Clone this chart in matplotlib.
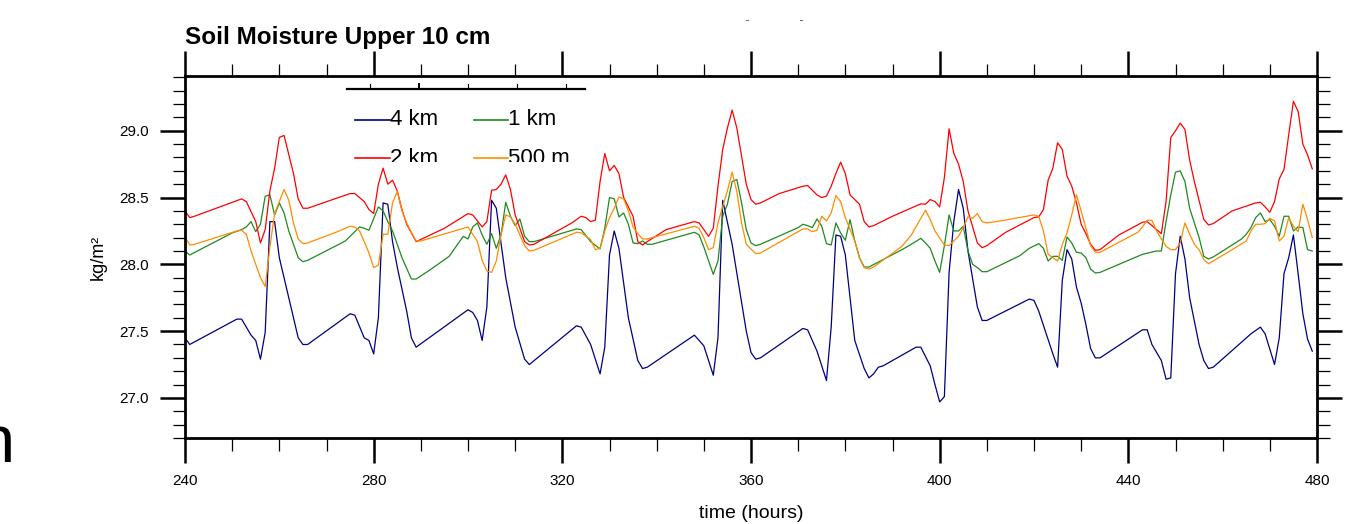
import numpy as np
import matplotlib.pyplot as plt
from matplotlib.lines import Line2D
from matplotlib.patches import Rectangle
from matplotlib.ticker import MultipleLocator

plt.rcParams['font.family'] = ['Liberation Sans', 'DejaVu Sans']

# (hour, soil moisture kg/m2) for each model resolution
sm_4km = [(240, 27.45), (241, 27.40), (251, 27.59), (252, 27.59), (254, 27.47), (255, 27.43), (256, 27.29),
          (257, 27.49), (258, 28.32), (259, 28.32), (260, 28.05), (264, 27.45), (265, 27.40), (266, 27.40),
          (275, 27.63), (276, 27.62), (278, 27.45), (279, 27.43), (280, 27.33), (281, 27.60), (282, 28.46),
          (283, 28.45), (284, 28.17), (285, 27.98), (287, 27.65), (288, 27.45), (289, 27.38), (300, 27.66),
          (301, 27.64), (302, 27.58), (303, 27.43), (304, 27.68), (305, 28.48), (306, 28.42), (308, 27.90),
          (310, 27.53), (312, 27.29), (313, 27.25), (323, 27.54), (324, 27.53), (326, 27.40), (328, 27.18),
          (329, 27.38), (330, 28.07), (331, 28.25), (332, 28.12), (334, 27.60), (336, 27.28), (337, 27.22),
          (338, 27.23), (348, 27.47), (350, 27.39), (352, 27.17), (353, 27.45), (354, 28.48), (356, 28.15),
          (359, 27.50), (360, 27.34), (361, 27.29), (362, 27.30), (371, 27.52), (372, 27.51), (374, 27.35),
          (376, 27.13), (377, 27.53), (378, 28.22), (379, 28.21), (380, 28.07), (382, 27.43), (384, 27.22),
          (385, 27.15), (386, 27.18), (387, 27.23), (388, 27.24), (395, 27.38), (396, 27.38), (398, 27.24),
          (399, 27.10), (400, 26.97), (401, 27.01), (402, 27.94), (403, 28.32), (404, 28.56), (405, 28.42),
          (406, 28.10), (408, 27.68), (409, 27.58), (410, 27.58), (419, 27.74), (420, 27.73), (421, 27.65),
          (424, 27.33), (425, 27.23), (426, 27.88), (427, 28.11), (428, 28.04), (429, 27.83), (430, 27.71),
          (431, 27.55), (432, 27.37), (433, 27.30), (434, 27.30), (443, 27.51), (444, 27.51), (445, 27.40),
          (447, 27.28), (448, 27.14), (449, 27.15), (450, 27.93), (451, 28.21), (452, 28.04), (453, 27.75),
          (455, 27.40), (456, 27.28), (457, 27.22), (458, 27.23), (466, 27.48), (468, 27.53), (469, 27.48),
          (471, 27.25), (472, 27.45), (473, 27.93), (474, 28.05), (475, 28.22), (476, 27.93), (477, 27.63),
          (478, 27.44), (479, 27.35)]

sm_2km = [(240, 28.40), (241, 28.35), (242, 28.36), (252, 28.49), (253, 28.47), (255, 28.32), (256, 28.16),
          (257, 28.26), (258, 28.55), (259, 28.72), (260, 28.95), (261, 28.965), (263, 28.68), (264, 28.49),
          (265, 28.42), (266, 28.42), (275, 28.53), (276, 28.53), (278, 28.47), (279, 28.41), (280, 28.38),
          (281, 28.60), (282, 28.72), (283, 28.60), (284, 28.63), (285, 28.55), (286, 28.41), (287, 28.30),
          (289, 28.17), (295, 28.27), (300, 28.38), (301, 28.37), (303, 28.28), (304, 28.32), (305, 28.555),
          (306, 28.56), (307, 28.60), (308, 28.67), (309, 28.56), (310, 28.37), (312, 28.17), (313, 28.145),
          (314, 28.15), (322, 28.31), (323, 28.335), (324, 28.36), (325, 28.35), (326, 28.32), (327, 28.33),
          (328, 28.62), (329, 28.83), (330, 28.70), (331, 28.74), (332, 28.68), (333, 28.50), (335, 28.36),
          (336, 28.17), (337, 28.145), (338, 28.17), (342, 28.26), (348, 28.32), (349, 28.31), (350, 28.26),
          (351, 28.21), (352, 28.27), (353, 28.585), (354, 28.86), (355, 29.02), (356, 29.155), (357, 29.02),
          (358, 28.81), (359, 28.60), (360, 28.485), (361, 28.45), (362, 28.46), (366, 28.53), (371, 28.585),
          (372, 28.59), (374, 28.52), (375, 28.50), (376, 28.51), (377, 28.585), (378, 28.68), (379, 28.765),
          (380, 28.68), (381, 28.52), (383, 28.45), (384, 28.32), (385, 28.28), (386, 28.29), (390, 28.36),
          (396, 28.453), (397, 28.45), (398, 28.485), (399, 28.47), (400, 28.43), (401, 28.65), (402, 29.015),
          (403, 28.83), (404, 28.75), (405, 28.62), (406, 28.40), (408, 28.16), (409, 28.125), (410, 28.14),
          (414, 28.24), (420, 28.35), (421, 28.355), (422, 28.41), (423, 28.63), (424, 28.72), (425, 28.91),
          (426, 28.86), (427, 28.66), (428, 28.585), (429, 28.46), (430, 28.30), (431, 28.23), (432, 28.15),
          (433, 28.105), (434, 28.11), (438, 28.22), (443, 28.315), (444, 28.32), (446, 28.26), (447, 28.23),
          (448, 28.47), (449, 28.95), (450, 29.00), (451, 29.057), (452, 29.01), (453, 28.78), (454, 28.62),
          (456, 28.336), (457, 28.295), (458, 28.305), (462, 28.40), (467, 28.46), (468, 28.465), (469, 28.43),
          (470, 28.39), (471, 28.47), (472, 28.64), (473, 28.71), (474, 28.97), (475, 29.22), (476, 29.145),
          (477, 28.90), (478, 28.82), (479, 28.715)]

sm_1km = [(240, 28.10), (241, 28.07), (250, 28.235), (252, 28.26), (253, 28.28), (254, 28.32), (255, 28.245),
          (256, 28.30), (257, 28.51), (258, 28.52), (259, 28.37), (260, 28.46), (261, 28.385), (262, 28.25),
          (264, 28.05), (265, 28.02), (266, 28.03), (274, 28.175), (275, 28.21), (277, 28.28), (278, 28.27),
          (279, 28.255), (281, 28.43), (282, 28.40), (283, 28.32), (284, 28.25), (286, 28.05), (288, 27.89),
          (289, 27.89), (292, 27.96), (296, 28.06), (297, 28.11), (299, 28.21), (300, 28.19), (301, 28.28),
          (302, 28.31), (303, 28.22), (304, 28.15), (305, 28.23), (306, 28.12), (307, 28.22), (308, 28.465),
          (309, 28.36), (310, 28.29), (311, 28.34), (312, 28.21), (313, 28.17), (314, 28.17), (323, 28.265),
          (324, 28.26), (326, 28.17), (328, 28.115), (329, 28.27), (330, 28.50), (331, 28.49), (332, 28.355),
          (333, 28.385), (334, 28.30), (335, 28.16), (336, 28.155), (337, 28.175), (338, 28.15), (339, 28.15),
          (348, 28.24), (349, 28.22), (350, 28.13), (352, 27.925), (353, 28.025), (354, 28.36), (355, 28.45),
          (356, 28.62), (357, 28.635), (358, 28.46), (359, 28.26), (360, 28.16), (361, 28.14), (362, 28.15),
          (370, 28.275), (371, 28.30), (372, 28.29), (373, 28.275), (374, 28.34), (375, 28.285), (376, 28.155),
          (377, 28.145), (378, 28.31), (379, 28.235), (380, 28.18), (381, 28.335), (382, 28.175), (383, 28.05),
          (384, 27.98), (385, 27.98), (392, 28.11), (394, 28.15), (396, 28.195), (397, 28.16), (398, 28.12),
          (399, 28.025), (400, 27.94), (401, 28.14), (402, 28.37), (403, 28.25), (404, 28.25), (405, 28.285),
          (406, 28.10), (407, 28.00), (408, 27.975), (409, 27.945), (410, 27.945), (417, 28.065), (419, 28.12),
          (421, 28.155), (422, 28.12), (423, 28.025), (424, 28.06), (425, 28.06), (426, 28.03), (427, 28.205),
          (428, 28.16), (429, 28.09), (430, 28.085), (431, 28.05), (432, 27.965), (433, 27.935), (434, 27.94),
          (443, 28.075), (445, 28.092), (446, 28.10), (447, 28.10), (448, 28.32), (449, 28.52), (450, 28.69),
          (451, 28.70), (452, 28.62), (453, 28.42), (455, 28.20), (456, 28.06), (457, 28.04), (458, 28.055),
          (464, 28.19), (465, 28.225), (466, 28.275), (467, 28.35), (468, 28.385), (469, 28.32), (470, 28.335),
          (471, 28.285), (472, 28.21), (473, 28.36), (474, 28.36), (475, 28.25), (476, 28.28), (477, 28.275),
          (478, 28.11), (479, 28.10)]

sm_500m = [(240, 28.205), (241, 28.145), (242, 28.15), (251, 28.25), (252, 28.255), (253, 28.225), (254, 28.10),
           (256, 27.90), (257, 27.835), (258, 28.13), (259, 28.38), (260, 28.47), (261, 28.56), (262, 28.48),
           (263, 28.31), (264, 28.19), (265, 28.155), (266, 28.16), (272, 28.24), (275, 28.285), (276, 28.28),
           (277, 28.25), (278, 28.17), (279, 28.085), (280, 27.975), (281, 27.995), (282, 28.225), (283, 28.225),
           (284, 28.46), (285, 28.545), (286, 28.40), (287, 28.31), (288, 28.24), (289, 28.175), (290, 28.175),
           (300, 28.28), (302, 28.17), (303, 28.03), (304, 27.95), (305, 27.94), (306, 28.025), (307, 28.22),
           (308, 28.37), (309, 28.355), (310, 28.30), (311, 28.22), (312, 28.14), (313, 28.10), (314, 28.105),
           (323, 28.24), (324, 28.236), (326, 28.185), (327, 28.11), (328, 28.12), (329, 28.25), (330, 28.35),
           (331, 28.42), (332, 28.505), (333, 28.49), (334, 28.40), (335, 28.28), (336, 28.23), (337, 28.19),
           (338, 28.19), (348, 28.285), (349, 28.27), (350, 28.20), (351, 28.11), (352, 28.125), (353, 28.31),
           (354, 28.435), (355, 28.55), (356, 28.69), (357, 28.545), (358, 28.31), (359, 28.15), (361, 28.08),
           (362, 28.085), (371, 28.265), (372, 28.265), (373, 28.245), (374, 28.255), (375, 28.36), (376, 28.325),
           (377, 28.385), (378, 28.515), (379, 28.47), (380, 28.35), (382, 28.175), (383, 28.05), (384, 27.975),
           (385, 27.965), (386, 27.98), (392, 28.135), (394, 28.22), (396, 28.345), (397, 28.405), (398, 28.335),
           (399, 28.25), (401, 28.145), (402, 28.14), (403, 28.175), (404, 28.21), (405, 28.275), (406, 28.355),
           (407, 28.345), (408, 28.38), (409, 28.32), (410, 28.31), (412, 28.32), (420, 28.37), (421, 28.36),
           (422, 28.25), (423, 28.075), (424, 28.05), (425, 28.025), (426, 28.15), (427, 28.235), (428, 28.37),
           (429, 28.52), (430, 28.40), (431, 28.27), (432, 28.14), (433, 28.09), (434, 28.09), (442, 28.24),
           (443, 28.28), (444, 28.33), (445, 28.33), (446, 28.25), (447, 28.19), (448, 28.135), (449, 28.11),
           (450, 28.11), (451, 28.16), (452, 28.31), (453, 28.225), (454, 28.15), (455, 28.11), (456, 28.035),
           (457, 28.005), (458, 28.025), (462, 28.11), (465, 28.175), (466, 28.25), (467, 28.30), (468, 28.30),
           (469, 28.305), (470, 28.345), (471, 28.325), (472, 28.175), (473, 28.21), (474, 28.35), (475, 28.285),
           (476, 28.245), (477, 28.45), (478, 28.335), (479, 28.20)]

labels = ['4 km', '1 km', '2 km', '500 m']
series = [sm_4km, sm_1km, sm_2km, sm_500m]
colors = ['#000080', '#1f8a1f', '#ff0000', '#ff8c00']

W, H = 1346, 524
fig = plt.figure(figsize=(W / 100, H / 100), dpi=100)
ax = fig.add_axes([185 / W, 1 - 438 / H, 1132 / W, 362 / H])

for data, c in zip(series, colors):
    x, y = np.array(data).T
    ax.plot(x, y, color=c, lw=0.9)

ax.set_xlim(240, 480)
ax.set_ylim(26.70, 29.41)
ax.xaxis.set_major_locator(MultipleLocator(40))
ax.xaxis.set_minor_locator(MultipleLocator(10))
ax.yaxis.set_major_locator(MultipleLocator(0.5))
ax.yaxis.set_minor_locator(MultipleLocator(0.1))
ax.yaxis.set_major_formatter(plt.FormatStrFormatter('%.1f'))

for s in ax.spines.values():
    s.set_linewidth(2.0)
ax.tick_params(which='both', direction='out', top=True, right=True, labelsize=11, pad=8)
ax.tick_params(which='major', length=18, width=1.8)
ax.tick_params(which='minor', length=9, width=0.9)

ax.set_xlabel('time (hours)', fontsize=14, labelpad=12)
ax.set_ylabel('kg/m²', fontsize=13, labelpad=9)
fig.text(185 / W, 1 - 44 / H, 'Soil Moisture Upper 10 cm', fontsize=17.5, fontweight='bold',
         ha='left', va='baseline')

# legend drawn by hand, cut off through the second row
clip = Rectangle((340 / W, 1 - 162 / H), 300 / W, 70 / H, transform=fig.transFigure)
rows = [120, 158]
cols = [(355, 390), (474, 508)]
for i, (lab, c) in enumerate(zip(labels, colors)):
    r, k = divmod(i, 2)
    yy = 1 - rows[r] / H
    x0, x1 = cols[k]
    ln = Line2D([x0 / W, x1 / W], [yy, yy], transform=fig.transFigure, color=c, lw=1.2)
    ln.set_clip_path(clip)
    fig.add_artist(ln)
    t = fig.text(x1 / W, yy, lab, fontsize=16, ha='left', va='center')
    t.set_clip_path(clip)

# short ruler line above the legend
yb = 1 - 89 / H
fig.add_artist(Line2D([347 / W, 585 / W], [yb, yb], transform=fig.transFigure, color='black', lw=1.6))
for xt in [370, 419, 468, 517, 566]:
    fig.add_artist(Line2D([xt / W, xt / W], [yb, yb + 5 / H], transform=fig.transFigure,
                          color='black', lw=1.4 if xt == 419 else 0.8))

for xd in [746, 800]:
    fig.add_artist(Line2D([xd / W, (xd + 1.5) / W], [1 - 20 / H, 1 - 20 / H], transform=fig.transFigure,
                          color='#777777', lw=0.8))

fig.text(-22 / W, 1 - 462 / H, 'n', fontsize=48, ha='left', va='baseline')

fig.savefig('out.png', dpi=100)
